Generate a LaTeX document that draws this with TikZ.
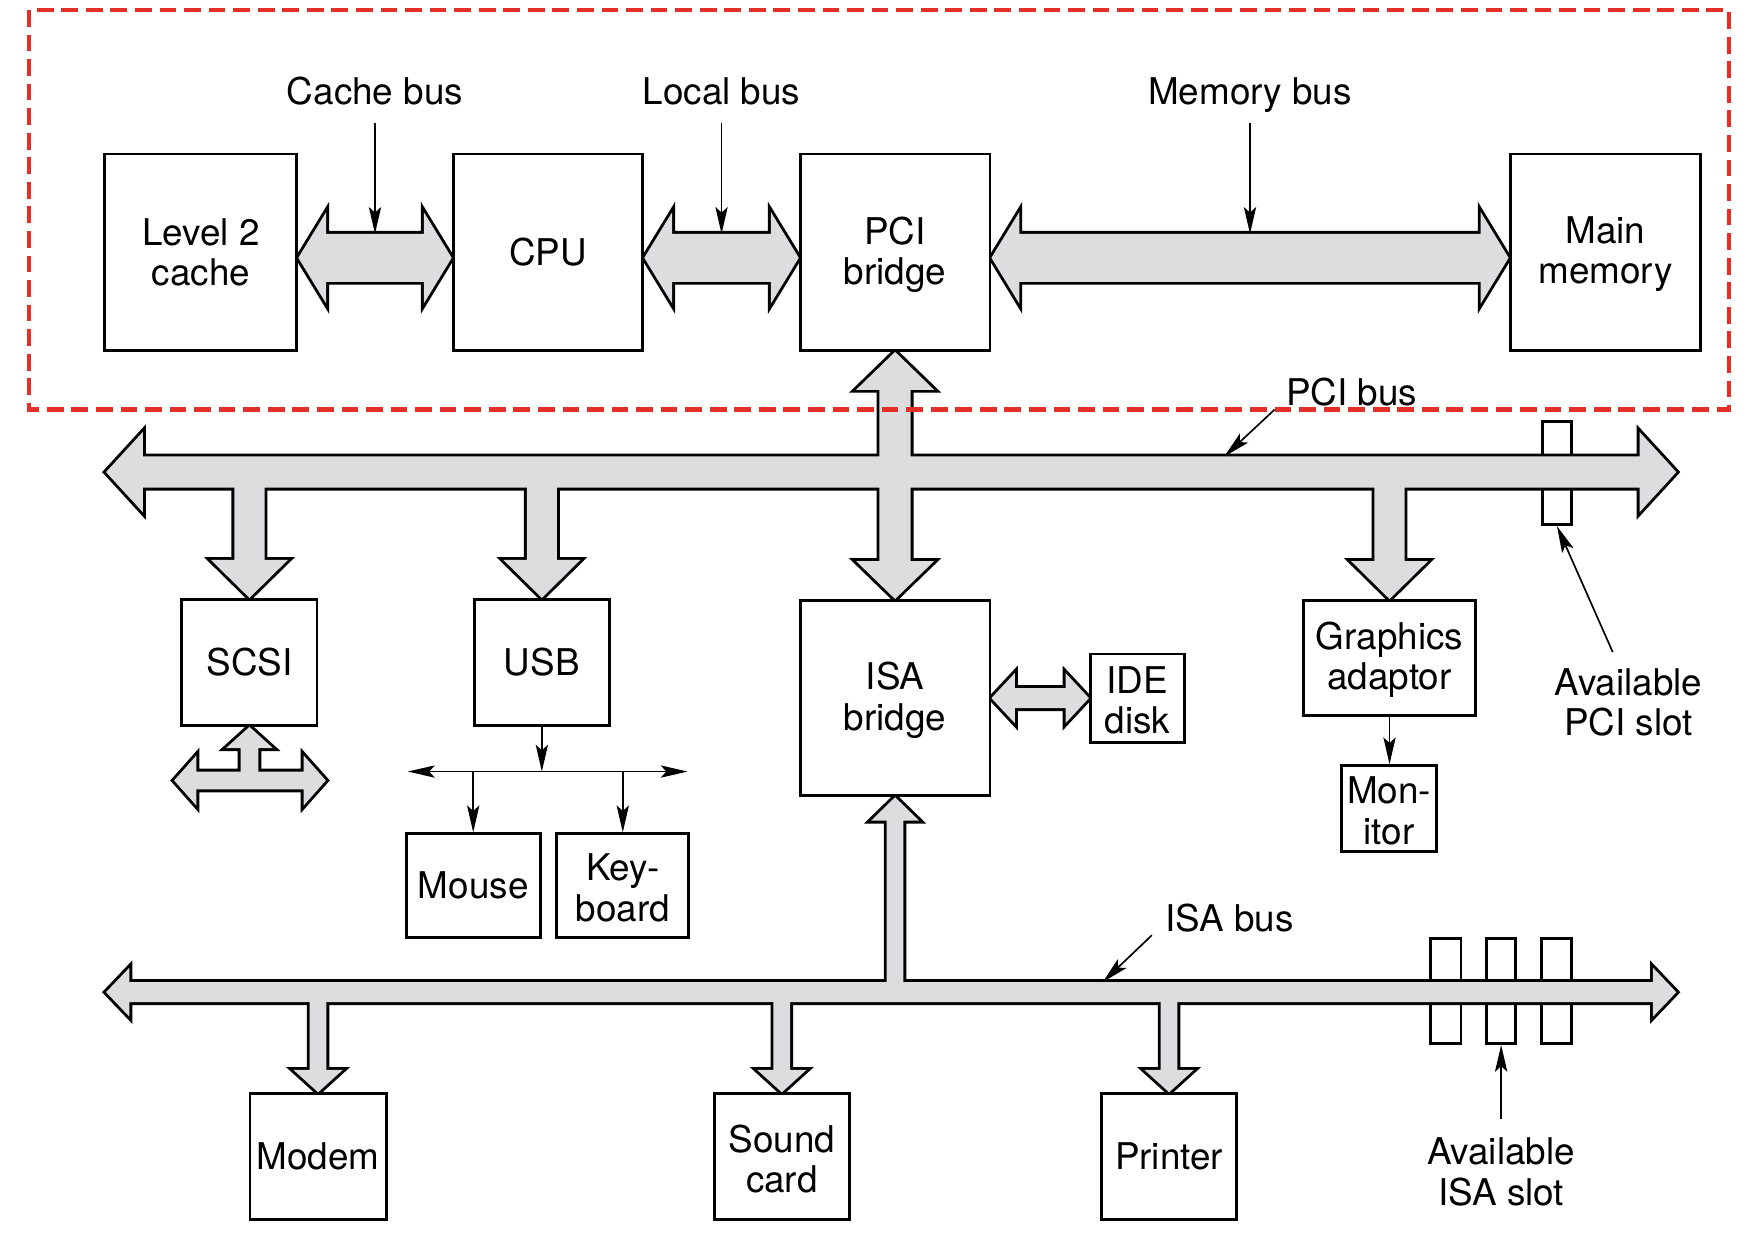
\documentclass[tikz,border=0pt]{standalone}
\usepackage{fontspec}
\setmainfont{TeX Gyre Heros}
\usetikzlibrary{calc,arrows.meta}
\definecolor{busgray}{RGB}{221,221,224}
\definecolor{dashred}{RGB}{228,46,40}
\newcommand\lblfont{\fontsize{16.5}{18}\selectfont}
% horizontal double fat arrow: left tip, right tip, shaft half, head half, head length
\newcommand\hdbl[5]{(#1) -- ++(#5,-#4) -- ++(0,#4-#3) -- ($(#2)+(-#5,-#3)$) -- ++(0,#3-#4) -- (#2) -- ++(-#5,#4) -- ++(0,#3-#4) -- ($(#1)+(#5,#3)$) -- ++(0,#4-#3) -- cycle}
% vertical double fat arrow: top tip, bottom tip, shaft half, head half, head length
\newcommand\vdbl[5]{(#1) -- ($(#1)+(#4,#5)$) -- ++(#3-#4,0) -- ($(#2)+(#3,-#5)$) -- ++(#4-#3,0) -- (#2) -- ($(#2)+(-#4,-#5)$) -- ++(#4-#3,0) -- ($(#1)+(-#3,#5)$) -- ++(#3-#4,0) -- cycle}
% single fat arrow pointing down: tail, tip, shaft half, head half, head length
\newcommand\vdown[5]{($(#1)+(-#3,0)$) -- ($(#2)+(-#3,-#5)$) -- ++(#3-#4,0) -- (#2) -- ($(#2)+(#4,-#5)$) -- ++(#3-#4,0) -- ($(#1)+(#3,0)$) -- cycle}
% single fat arrow pointing up: tail, tip, shaft half, head half, head length
\newcommand\vup[5]{($(#1)+(-#3,0)$) -- ($(#2)+(-#3,#5)$) -- ++(#3-#4,0) -- (#2) -- ($(#2)+(#4,#5)$) -- ++(#3-#4,0) -- ($(#1)+(#3,0)$) -- cycle}
\newcommand\fatshapes[1]{%
  \path[#1] \hdbl{cb1}{cb2}{21.5}{41}{25};
  \path[#1] \hdbl{lb1}{lb2}{21.5}{41}{25};
  \path[#1] \hdbl{mb1}{mb2}{21.5}{41}{25};
  \path[#1] \hdbl{pciL}{pciR}{14}{36}{33};
  \path[#1] \vdbl{pcib.south}{isab.north}{14}{35}{34};
  \path[#1] \vdown{scsitop}{scsi.north}{13.5}{34.5}{34};
  \path[#1] \vdown{usbtop}{usb.north}{13.5}{34.5}{34};
  \path[#1] \vdown{gfxtop}{gfx.north}{13.5}{34.5}{34};
  \path[#1] \hdbl{isaL}{isaR}{9}{22}{21};
  \path[#1] \vup{isabbot}{isab.south}{7.5}{21.5}{21};
  \path[#1] \vdown{modemtop}{modem.north}{7.5}{22}{20};
  \path[#1] \vdown{soundtop}{sound.north}{7.5}{22}{20};
  \path[#1] \vdown{printtop}{printer.north}{7.5}{22}{20};
  \path[#1] \vup{scsib}{scsi.south}{8}{21}{19};
  \path[#1] \hdbl{sL}{sR}{8}{22.5}{20};
  \path[#1] \hdbl{isab.east}{ide.west}{9}{22.5}{21};
}
\begin{document}
\begin{tikzpicture}[x=0.5pt,y=-0.5pt,
  box/.style={draw, line width=1.3pt, fill=white, inner sep=0pt, align=center, font=\lblfont},
  ml/.style={yshift=-1pt},
  sz/.style 2 args={minimum width=#1*0.5pt, minimum height=#2*0.5pt},
  slot/.style={draw, line width=1.3pt, fill=white, inner sep=0pt},
  lbl/.style={font=\lblfont, inner sep=0pt},
  thinarr/.style={line width=0.75pt, -{Stealth[length=12pt,width=5.5pt,inset=2.5pt]}},
  thinarrb/.style={line width=0.75pt, {Stealth[length=12pt,width=5.5pt,inset=2.5pt]}-{Stealth[length=12pt,width=5.5pt,inset=2.5pt]}}]
\useasboundingbox (0,0) rectangle (1568,1106);
\fill[white] (0,0) rectangle (1568,1106);

% boxes (placed first for anchors; redrawn on top later)
\path
  (180,226)    node[box,sz={172}{176}] (l2) {}
  (491,226)    node[box,sz={170}{176}] (cpu) {}
  (802,226)    node[box,sz={170}{176}] (pcib) {}
  (1438.5,226) node[box,sz={171}{176}] (mem) {}
  (223.5,593.5) node[box,sz={121}{113}] (scsi) {}
  (485.5,593.5) node[box,sz={121}{113}] (usb) {}
  (802,625.5)  node[box,sz={170}{175}] (isab) {}
  (1019,625.5) node[box,sz={84}{79}] (ide) {}
  (1245,589.5) node[box,sz={154}{103}] (gfx) {}
  (1244.5,724.5) node[box,sz={85}{77}] (mon) {}
  (424,793.5)  node[box,sz={120}{93}] (mouse) {}
  (558,793.5)  node[box,sz={118}{93}] (kbd) {}
  (285,1036.5) node[box,sz={122}{113}] (modem) {}
  (700.5,1036.5) node[box,sz={121}{113}] (sound) {}
  (1047.5,1036.5) node[box,sz={121}{113}] (printer) {};

% slots (under the buses)
\node[slot,sz={26}{92}] (pslot) at (1395,424) {};
\node[slot,sz={27}{94}] (islot1) at (1295.5,888) {};
\node[slot,sz={26}{94}] (islot2) at (1345,888) {};
\node[slot,sz={27}{94}] (islot3) at (1394.5,888) {};

% bus end points and junctions
\coordinate (cb1) at ($(l2.east)+(0,5)$);
\coordinate (cb2) at ($(cpu.west)+(0,5)$);
\coordinate (lb1) at ($(cpu.east)+(0,5)$);
\coordinate (lb2) at ($(pcib.west)+(0,5)$);
\coordinate (mb1) at ($(pcib.east)+(0,5)$);
\coordinate (mb2) at ($(mem.west)+(0,5)$);
\coordinate (pciL) at (95,423);
\coordinate (pciR) at (1502,423);
\coordinate (isaL) at (95,889);
\coordinate (isaR) at (1502,889);
\coordinate (scsitop) at (scsi.north |- pciL);
\coordinate (usbtop) at (usb.north |- pciL);
\coordinate (gfxtop) at (gfx.north |- pciL);
\coordinate (isabbot) at (isab.south |- isaL);
\coordinate (modemtop) at (modem.north |- isaL);
\coordinate (soundtop) at (sound.north |- isaL);
\coordinate (printtop) at (printer.north |- isaL);
\coordinate (scsib) at ($(scsi.south)+(0,48)$);
\coordinate (sL) at ($(scsib)+(-67.5,0)$);
\coordinate (sR) at ($(scsib)+(68.5,0)$);

% fat buses: outline pass, then fill pass (union)
\fatshapes{draw=black, line width=2.6pt, fill=busgray, line join=miter}
\fatshapes{fill=busgray}

% boxes with text on top
\path
  (l2)      node[box,sz={172}{176}] {Level 2\\cache}
  (cpu)     node[box,sz={170}{176}] {CPU}
  (pcib)    node[box,sz={170}{176}] {}
  (mem)     node[box,sz={171}{176}] {}
  (isab)    node[box,sz={170}{175}] {}
  (ide)     node[box,sz={84}{79}] {}
  (gfx)     node[box,sz={154}{103}] {}
  (mon)     node[box,sz={85}{77}] {}
  (kbd)     node[box,sz={118}{93}] {}
  (sound)   node[box,sz={121}{113}] {}
  (scsi)    node[box,sz={121}{113}] {SCSI}
  (usb)     node[box,sz={121}{113}] {USB}
  (mouse)   node[box,sz={120}{93}] {Mouse}
  (modem)   node[box,sz={122}{113}] {Modem}
  (printer) node[box,sz={121}{113}] {Printer};
\path[font=\lblfont]
  (pcib)  node[ml,align=center] {PCI\\bridge}
  (mem)   node[ml,align=center] {Main\\memory}
  (isab)  node[ml,align=center] {ISA\\bridge}
  (ide)   node[ml,align=center] {IDE\\disk}
  (gfx)   node[ml,align=center] {Graphics\\adaptor}
  (mon)   node[ml,align=center] {Mon-\\itor}
  (kbd)   node[ml,align=center] {Key-\\board}
  (sound) node[ml,align=center] {Sound\\card};

% bus labels
\node[lbl, text depth=0pt, anchor=base] (cbl) at (336,94) {Cache bus};
\node[lbl, text depth=0pt, anchor=base] (lbl) at (646.5,94) {Local bus};
\node[lbl, text depth=0pt, anchor=base] (mbl) at (1120,94) {Memory bus};
\node[lbl, text depth=0pt, anchor=base west] (pcil) at (1152,363) {PCI bus};
\node[lbl, text depth=0pt, anchor=base west] (isal) at (1044,835) {ISA bus};
\node[lbl, align=center] (apl) at (1459,629) {Available\\PCI slot};
\node[lbl, align=center] (ail) at (1345,1050) {Available\\ISA slot};

\draw[thinarr, shorten <=8pt] (cbl.south) -- ($(cb1)!0.5!(cb2)+(0,-21.5)$);
\draw[thinarr, shorten <=8pt] (lbl.south) -- ($(lb1)!0.5!(lb2)+(0,-21.5)$);
\draw[thinarr, shorten <=8pt] (mbl.south) -- ($(mb1)!0.5!(mb2)+(0,-21.5)$);
\coordinate (pcia) at ($(pcil.base west)+(-10,4)$);
\coordinate (pcit) at ($(pciL)+(1002,-14)$);
\draw[thinarr] (pcia) -- (pcit);
\coordinate (isaa) at ($(isal.base west)+(-12,3)$);
\coordinate (isat) at ($(isaL)+(893,-9)$);
\draw[thinarr] (isaa) -- (isat);
\draw[thinarr] ($(apl.north)+(-14,-14)$) -- (pslot.south);
\draw[thinarr] ($(ail.north)+(0,-17)$) -- (islot2.south);

% USB thin bus
\coordinate (ubm) at ($(usb.south)+(0,40)$);
\coordinate (ub1) at ($(ubm)+(-120,0)$);
\coordinate (ub2) at ($(ubm)+(130.5,0)$);
\draw[thinarr] (usb.south) -- (ubm);
\draw[thinarrb] (ub1) -- (ub2);
\draw[thinarr] (mouse.north |- ubm) -- (mouse.north);
\draw[thinarr] (kbd.north |- ubm) -- (kbd.north);

% graphics to monitor
\draw[thinarr] (gfx.south) -- (gfx.south |- mon.north);

% red dashed frame
\draw[dashred, line width=2pt, dash pattern=on 7.5pt off 3.5pt] (26,9) rectangle (1549,367);
\end{tikzpicture}
\end{document}
